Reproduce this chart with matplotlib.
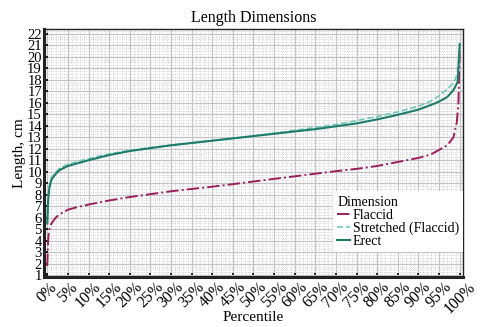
import matplotlib
matplotlib.use("Agg")
import matplotlib.pyplot as plt
from matplotlib.ticker import MultipleLocator, FuncFormatter

plt.rcParams['font.family'] = ['Liberation Serif', 'DejaVu Serif']

# percentile (%) -> length (cm)
flaccid_pct = [0, 0.15, 0.3, 0.5, 1, 2, 3, 5, 7, 10, 15, 20, 25, 30, 35, 40, 45,
               50, 55, 60, 65, 70, 75, 80, 85, 90, 93, 95, 97, 98.5, 99.3, 99.7, 100]
flaccid_len = [1.8, 3.6, 4.5, 5.0, 5.5, 6.0, 6.3, 6.7, 6.9, 7.15, 7.5, 7.8, 8.05,
               8.3, 8.5, 8.7, 8.92, 9.15, 9.38, 9.6, 9.83, 10.05, 10.25, 10.5, 10.85,
               11.2, 11.5, 11.9, 12.3, 13.0, 14.3, 16.0, 20.5]

stretched_pct = [0, 0.2, 0.5, 1, 2, 3, 5, 10, 15, 20, 25, 30, 35, 40, 45, 50, 55,
                 60, 65, 70, 75, 80, 85, 90, 93, 95, 97, 98.5, 99.5, 100]
stretched_len = [5.5, 7.8, 8.8, 9.5, 9.95, 10.3, 10.65, 11.15, 11.55, 11.85, 12.1,
                 12.3, 12.5, 12.7, 12.9, 13.1, 13.35, 13.6, 13.85, 14.1, 14.45,
                 14.8, 15.2, 15.7, 16.15, 16.6, 17.2, 17.7, 18.6, 20.5]

erect_pct = [0, 0.2, 0.5, 1, 2, 3, 5, 10, 15, 20, 25, 30, 35, 40, 45, 50, 55, 60,
             65, 70, 75, 80, 85, 90, 93, 95, 97, 98.5, 99.5, 100]
erect_len = [5.5, 7.5, 8.6, 9.3, 9.8, 10.15, 10.5, 11.0, 11.45, 11.8, 12.05, 12.3,
             12.5, 12.7, 12.9, 13.1, 13.3, 13.5, 13.7, 13.95, 14.2, 14.55, 14.95,
             15.4, 15.8, 16.1, 16.5, 17.1, 17.8, 21.1]

fig = plt.figure(figsize=(5.0, 3.27), dpi=100)
ax = fig.add_axes([0.088, 0.153, 0.838, 0.758])

ax.plot(flaccid_pct, flaccid_len, color='#9c1f5c', lw=1.4, ls='-.', label='Flaccid')
ax.plot(stretched_pct, stretched_len, color='#74c9b8', lw=1.2, ls='--',
        label='Stretched (Flaccid)')
ax.plot(erect_pct, erect_len, color='#1e7b6b', lw=1.5, ls='-', label='Erect')

ax.set_xlim(-0.8, 100.8)
ax.set_ylim(0.85, 22.4)

ax.xaxis.set_major_locator(MultipleLocator(5))
ax.xaxis.set_minor_locator(MultipleLocator(1))
ax.yaxis.set_major_locator(MultipleLocator(1))
ax.yaxis.set_minor_locator(MultipleLocator(0.25))
ax.xaxis.set_major_formatter(FuncFormatter(lambda v, p: f'{v:.0f}%'))

ax.grid(which='major', color='#c4c4c4', lw=0.9)
ax.grid(which='minor', color='#c8c8c8', lw=0.6, ls=':')
ax.set_axisbelow(True)

ax.tick_params(which='major', direction='in', length=3, width=1.2, color='black',
               labelsize=10.5, pad=1.5)
ax.tick_params(which='minor', length=0)
for lbl in ax.get_xticklabels():
    lbl.set_rotation(45)
    lbl.set_fontsize(11.5)

for side in ['left', 'bottom']:
    ax.spines[side].set_linewidth(2.2)
    ax.spines[side].set_color('#222222')
for side in ['top', 'right']:
    ax.spines[side].set_linewidth(1.0)
    ax.spines[side].set_color('#222222')

ax.set_title('Length Dimensions', fontsize=11.5, pad=5)
ax.set_xlabel('Percentile', fontsize=11)
ax.xaxis.set_label_coords(0.5, -0.138)
ax.set_ylabel('Length, cm', fontsize=11, labelpad=1)

leg = ax.legend(title='Dimension', loc='lower right', fontsize=10,
                title_fontsize=10, frameon=True, fancybox=False,
                handlelength=0.9, handletextpad=0.2, labelspacing=0.0,
                borderpad=0.3, borderaxespad=0.0, bbox_to_anchor=(1.0, 0.1))
leg.get_frame().set_edgecolor('none')
leg.get_frame().set_facecolor('white')
leg.get_frame().set_alpha(1)
leg._legend_box.align = 'left'

fig.savefig('out.png', dpi=100)
